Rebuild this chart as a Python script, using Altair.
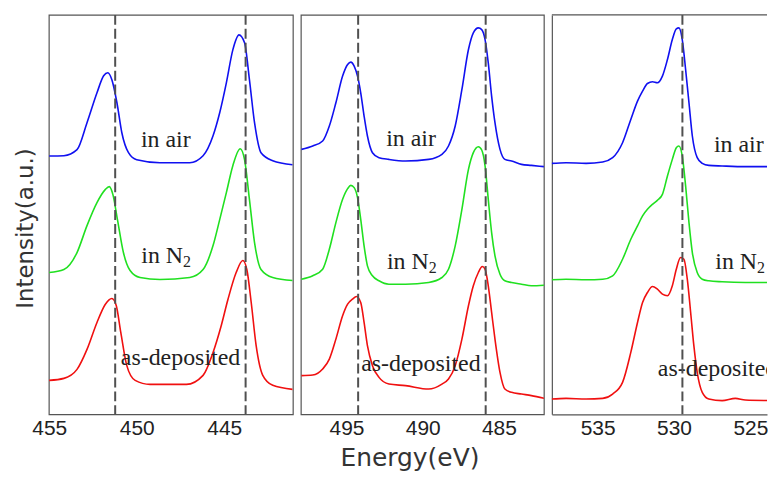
import altair as alt
import pandas as pd

# ---------------- data ----------------
# Panel 1 (Ti 2p region)
ti_air_E = [455.0, 454.16, 453.41, 452.84, 452.27, 451.89, 451.65, 451.42, 451.13, 450.85, 450.47, 450.0,
            448.67, 446.97, 446.21, 445.64, 445.26, 444.88, 444.51, 444.16, 443.84, 443.56, 443.27, 442.90,
            442.23, 441.10]
ti_air_I = [258.7, 259, 265, 292, 322, 339, 342, 335, 312, 282, 262, 255,
            252, 252, 259, 279, 302, 332, 365, 380, 372, 335, 292, 262,
            254, 250]
ti_n2_E = [455.0, 454.16, 453.41, 452.84, 452.27, 451.80, 451.57, 451.36, 451.10, 450.76, 450.38, 449.81,
           448.67, 446.97, 446.21, 445.64, 445.26, 444.88, 444.51, 444.09, 443.84, 443.56, 443.27, 442.90,
           442.23, 441.10]
ti_n2_I = [142, 145, 162, 189, 212, 225, 228, 220, 195, 162, 144, 137,
           135, 137, 145, 169, 195, 222, 249, 266, 255, 215, 172, 145,
           137, 134]
ti_dep_E = [455.0, 454.16, 453.41, 452.84, 452.27, 451.80, 451.42, 451.17, 450.91, 450.57, 450.09, 449.24,
            447.16, 446.21, 445.64, 445.17, 444.79, 444.32, 443.94, 443.71, 443.46, 443.18, 442.80, 442.23,
            441.10]
ti_dep_I = [34, 36, 45, 65, 92, 110, 116, 109, 82, 49, 34, 30,
            30, 39, 62, 89, 115, 142, 154, 145, 112, 69, 39, 29,
            25]

# Panel 2 (V 2p region)
v_E = [497.96, 497.22, 496.57, 496.13, 495.70, 495.26, 494.93, 494.72, 494.50, 494.28, 494.07, 493.85,
       493.63, 493.30, 492.87, 492.22, 491.13, 489.61, 488.74, 488.31, 487.87, 487.43, 487.00, 486.68,
       486.35, 486.13, 485.91, 485.70, 485.48, 485.26, 484.93, 484.61, 484.17, 483.52, 482.87, 482.04]
v_air_I = [265.3, 268.7, 273.7, 288.7, 312, 338.7, 350.3, 352.7, 348.7, 338.7, 322, 298.7,
           278.7, 262, 257, 255.3, 253.7, 255.3, 260.3, 268.7, 288.7, 325.3, 365.3, 382,
           387, 385.3, 375.3, 352, 318.7, 292, 265.3, 255.3, 253.7, 250.3, 249.3, 248]
v_n2_I = [135.3, 138.7, 145.3, 165.3, 192, 215.3, 226, 229.3, 227, 217, 195.3, 168.7,
          148.7, 138.7, 133.7, 130.3, 130.3, 132, 137, 145.3, 168.7, 205.3, 245.3, 262,
          268, 264.7, 248.7, 215.3, 182, 158.7, 140.3, 133.7, 132, 130.3, 128.7, 129.3]
v_dep_E = [497.96, 497.22, 496.57, 496.13, 495.70, 495.26, 494.93, 494.61, 494.35, 494.07, 493.85, 493.63,
           493.30, 492.87, 492.22, 491.13, 489.61, 488.74, 488.31, 487.87, 487.43, 487.00, 486.68, 486.35,
           486.09, 485.91, 485.70, 485.48, 485.26, 484.93, 484.61, 484.17, 483.52, 482.87, 482.04]
v_dep_I = [38.7, 39.3, 45.3, 55.3, 75.3, 98.7, 110.3, 115.3, 118, 112, 92, 68.7,
           48.7, 37, 30.3, 28.7, 25.3, 30.3, 35.3, 48.7, 75.3, 108.7, 128.7, 142,
           148, 145.3, 128.7, 102, 75.3, 42, 25.3, 22, 20.3, 18.7, 16]

# Panel 3 (O 1s region)
o_E = [538.03, 537.07, 535.76, 534.67, 534.02, 533.37, 532.83, 532.39, 532.06, 531.74, 531.41, 531.09,
       530.76, 530.43, 530.11, 529.85, 529.68, 529.46, 529.24, 529.02, 528.80, 528.48, 528.15, 527.72,
       526.85, 525.33, 523.37]
o_air_I = [251.3, 252, 251.3, 252.7, 257, 272, 295.3, 313.7, 323.7, 331.3, 333, 332,
           338.7, 355.3, 375.3, 386, 387, 375.3, 345.3, 312, 278.7, 257, 251.3, 249.3,
           248.7, 248, 248]
o_n2_I = [134.7, 135.3, 134.7, 135.3, 138.7, 155.3, 175.3, 188.7, 198.7, 205.3, 210.3, 214.3,
          220.3, 238.7, 255.3, 267, 268.7, 258.7, 228.7, 192, 162, 142, 135.3, 133.7,
          132.7, 132, 132]
o_dep_E = [538.03, 537.07, 535.76, 534.67, 534.02, 533.37, 532.83, 532.39, 532.06, 531.74, 531.41, 531.09,
           530.76, 530.43, 530.11, 529.85, 529.57, 529.35, 529.13, 528.91, 528.70, 528.48, 528.15, 527.72,
           526.85, 525.98, 525.33, 523.37]
o_dep_I = [15.3, 16, 15.3, 16, 20.3, 32, 62, 92, 112, 122, 128, 125.3,
           120.3, 118.7, 128.7, 145.3, 157, 155.3, 135.3, 102, 68.7, 42, 22, 15.3,
           13.7, 16, 14.3, 13.7]

# reference (dashed) lines
ti_lines = [451.23, 443.78]
v_lines = [494.24, 485.87]
o_lines = [529.45]

# axis ticks
ti_ticks = [455, 450, 445]
v_ticks = [495, 490, 485]
o_ticks = [535, 530, 525]

series_names = ["in air", "in N2", "as-deposited"]
series_colors = ["#1010f0", "#20e020", "#f01010"]

# annotations: label, energy, intensity (baseline)
ti_ann = {"center": (["in air", "as-deposited"], [448.34, 447.5], [268, 49.3]),
          "N": (447.35, 152)}
v_ann = {"center": (["in air", "as-deposited"], [490.77, 490.12], [268.7, 43.7]),
         "N": (489.61, 145.3)}
o_ann = {"center": (["in air", "as-deposited"], [525.76, 527.15], [262.7, 38.0]),
         "N": (524.56, 146)}

FRAME = "#555555"


def make_df(pairs):
    rows = []
    for name, E, I in pairs:
        for e, i in zip(E, I):
            rows.append({"E": e, "I": i, "series": name})
    return pd.DataFrame(rows)


def panel(pairs, lines, ticks, ann, dom, width, first=False, last=False, xtitle=False):
    df = make_df(pairs)
    xscale = alt.Scale(domain=dom, reverse=True, nice=False, zero=False)
    xaxis_kw = dict(values=ticks, grid=False, ticks=False, tickSize=0, labelFont="Liberation Sans",
                    labelFontSize=21, labelColor="#222222", labelPadding=3, labelFlush=False,
                    labelOverlap=False, domain=last, domainColor=FRAME, domainWidth=1.2, format="d")
    if xtitle:
        xaxis_kw.update(title="Energy(eV)", titleFont="DejaVu Sans", titleFontSize=25,
                        titleFontWeight="normal", titleColor="#333333", titleX=109, titleY=51,
                        titleAlign="center", titleBaseline="alphabetic")
        xenc = alt.X("E:Q", scale=xscale, axis=alt.Axis(**xaxis_kw))
    else:
        xenc = alt.X("E:Q", scale=xscale, axis=alt.Axis(**xaxis_kw), title=None)
    yscale = alt.Scale(domain=[0, 400], nice=False, zero=False)
    if first:
        yenc = alt.Y("I:Q", scale=yscale, axis=alt.Axis(labels=False, ticks=False, grid=False, domain=False,
                                                        title="Intensity(a.u.)", titleFont="DejaVu Sans",
                                                        titleFontSize=23, titleFontWeight="normal",
                                                        titleColor="#333333", titleAngle=270,
                                                        titleX=-23, titleY=214, titleAlign="center",
                                                        titleBaseline="middle"))
    elif last:
        yenc = alt.Y("I:Q", scale=yscale, axis=alt.Axis(labels=False, ticks=False, grid=False, domain=True,
                                                        domainColor=FRAME, domainWidth=1.2), title=None)
    else:
        yenc = alt.Y("I:Q", scale=yscale, axis=None)

    curves = alt.Chart(df).mark_line(interpolate="monotone", strokeWidth=1.6, clip=True).encode(
        x=xenc, y=yenc,
        color=alt.Color("series:N", scale=alt.Scale(domain=series_names, range=series_colors), legend=None),
    )

    labs, le, li = ann["center"]
    tdf = pd.DataFrame({"E": le, "I": li, "label": labs})
    txt = alt.Chart(tdf).mark_text(font="Liberation Serif", fontSize=24, align="center",
                                   baseline="alphabetic", color="#222222", clip=True).encode(
        x="E:Q", y="I:Q", text="label:N")
    ne, ni = ann["N"]
    ndf = pd.DataFrame({"E": [ne], "I": [ni], "label": ["in N"]})
    ntxt = alt.Chart(ndf).mark_text(font="Liberation Serif", fontSize=24, align="right",
                                    baseline="alphabetic", color="#222222", clip=True).encode(
        x="E:Q", y="I:Q", text="label:N")
    sdf = pd.DataFrame({"E": [ne], "I": [ni - 4], "label": ["2"]})
    stxt = alt.Chart(sdf).mark_text(font="Liberation Serif", fontSize=16, align="left",
                                    baseline="alphabetic", color="#222222", clip=True).encode(
        x="E:Q", y="I:Q", text="label:N")

    rdf = pd.DataFrame({"E": lines})
    rules = alt.Chart(rdf).mark_rule(strokeDash=[10, 4], strokeWidth=2, color="#505050").encode(x="E:Q")

    layers = [curves, txt, ntxt, stxt, rules]
    if last:
        top = alt.Chart(pd.DataFrame({"a": [0]})).mark_rule(color=FRAME, strokeWidth=1.2).encode(
            x=alt.value(0), x2=alt.value(width), y=alt.value(0))
        layers.append(top)
    ch = alt.layer(*layers).properties(width=width, height=401)
    if last:
        ch = ch.properties(view=alt.ViewBackground(strokeOpacity=0))
    else:
        ch = ch.properties(view=alt.ViewBackground(stroke=FRAME, strokeWidth=1.2))
    return ch


p1 = panel([("in air", ti_air_E, ti_air_I), ("in N2", ti_n2_E, ti_n2_I), ("as-deposited", ti_dep_E, ti_dep_I)],
           ti_lines, ti_ticks, ti_ann, [441.08, 455.02], 245, first=True)
p2 = panel([("in air", v_E, v_air_I), ("in N2", v_E, v_n2_I), ("as-deposited", v_dep_E, v_dep_I)],
           v_lines, v_ticks, v_ann, [482.05, 498.0], 244, xtitle=True)
p3 = panel([("in air", o_E, o_air_I), ("in N2", o_E, o_n2_I), ("as-deposited", o_dep_E, o_dep_I)],
           o_lines, o_ticks, o_ann, [523.91, 538.0], 216, last=True)

chart = alt.hconcat(p1, p2, p3, spacing=6).properties(
    padding={"left": 6, "top": 4, "right": 0, "bottom": 0},
    background="white",
)

chart.save("out.html", embed_options={"renderer": "svg", "actions": False})
